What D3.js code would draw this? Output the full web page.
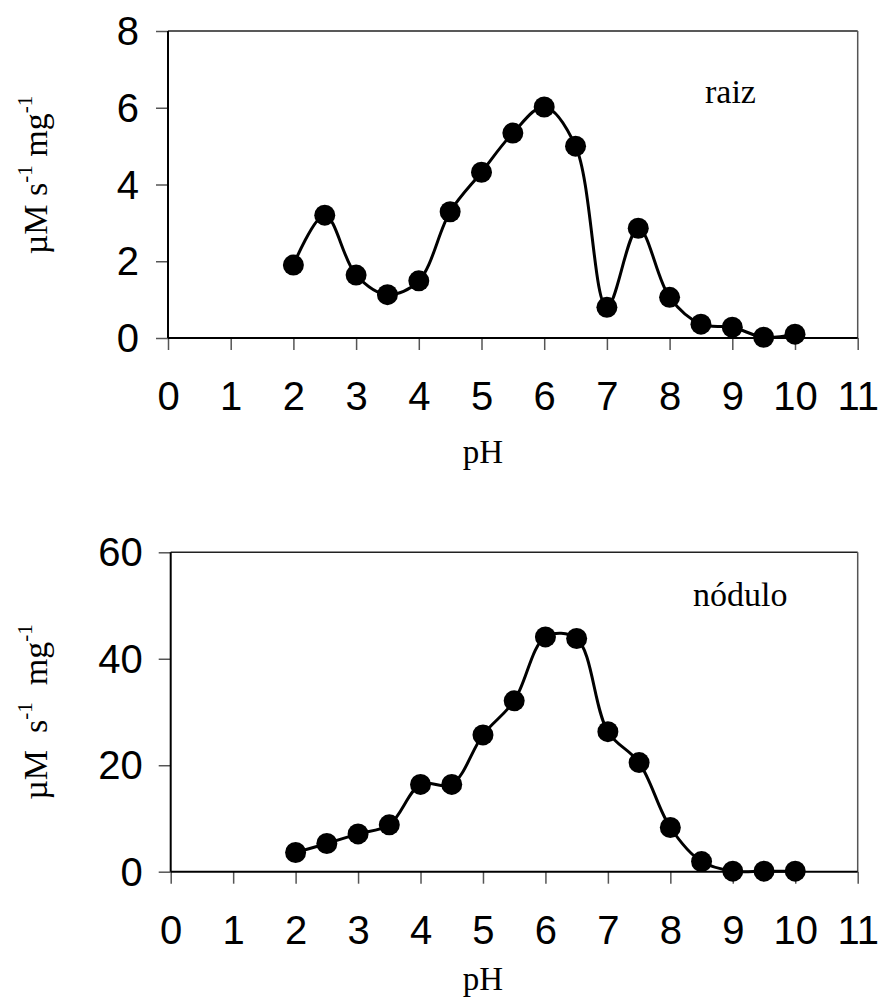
<!DOCTYPE html>
<html>
<head>
<meta charset="utf-8">
<script src="https://cdn.jsdelivr.net/npm/d3@7/dist/d3.min.js"></script>
<style>
    body { margin: 0; background: #fff; }
    .tick text { font-family: "Liberation Sans", Arial, sans-serif; fill: #000; }
    .tick line { stroke: #555; stroke-width: 1.5; }
    .serif { font-family: "Liberation Serif", "Times New Roman", serif; fill: #000; }
</style>
</head>
<body>
<div id="chart"></div>
<script>

// pH values (shared by both panels)
var phValues = [2, 2.5, 3, 3.5, 4, 4.5, 5, 5.5, 6, 6.5, 7, 7.5, 8, 8.5, 9, 9.5, 10];

// activity, raiz (root)
var raizValues = [1.9, 3.2, 1.64, 1.13, 1.49, 3.29, 4.32, 5.34, 6.02, 5.0, 0.8, 2.86, 1.06, 0.36, 0.28, 0.02, 0.1];

// activity, nodulo (nodule)
var noduloValues = [3.6, 5.3, 7.1, 8.8, 16.4, 16.4, 25.7, 32.1, 44.1, 43.8, 26.3, 20.5, 8.3, 1.9, 0.1, 0.1, 0.1];

var xTicks = [0, 1, 2, 3, 4, 5, 6, 7, 8, 9, 10, 11];
var raizYTicks = [0, 2, 4, 6, 8];
var noduloYTicks = [0, 20, 40, 60];


var svg = d3.select("#chart").append("svg")
    .attr("width", 880)
    .attr("height", 1001);


/*
 * drawPanel - one pH / activity plot
 */
function drawPanel(cfg) {
    var vis = {};

    vis.g = svg.append("g")
        .attr("transform", "translate(" + cfg.left + "," + cfg.top + ")");

    vis.width = cfg.width;
    vis.height = cfg.height;

    var data = phValues.map(function(d, i) {
        return { ph: d, value: cfg.values[i] };
    });

    // Scales and axes
    vis.x = d3.scaleLinear()
        .domain([0, 11])
        .range([0, vis.width]);

    vis.y = d3.scaleLinear()
        .domain([0, cfg.yMax])
        .range([vis.height, 0]);

    vis.xAxis = d3.axisBottom(vis.x)
        .tickValues(xTicks)
        .tickSize(12)
        .tickSizeOuter(0)
        .tickPadding(32);

    vis.yAxis = d3.axisLeft(vis.y)
        .tickValues(cfg.yTicks)
        .tickSize(12)
        .tickSizeOuter(0)
        .tickPadding(cfg.yPad);

    var xg = vis.g.append("g")
        .attr("transform", "translate(0," + vis.height + ")")
        .call(vis.xAxis);
    xg.select(".domain").remove();
    xg.selectAll(".tick text").style("font-size", "40px");

    var yg = vis.g.append("g")
        .call(vis.yAxis);
    yg.select(".domain").remove();
    yg.selectAll(".tick text")
        .style("font-size", "40px")
        .attr("dy", "0.34em");

    // frame: top + right thin, left + bottom axis lines
    vis.g.append("line")
        .attr("x1", 0).attr("x2", vis.width)
        .attr("y1", 0).attr("y2", 0)
        .attr("stroke", "#222").attr("stroke-width", 1.5);
    vis.g.append("line")
        .attr("x1", vis.width).attr("x2", vis.width)
        .attr("y1", 0).attr("y2", vis.height)
        .attr("stroke", "#555").attr("stroke-width", 1.5);
    vis.g.append("line")
        .attr("x1", 0).attr("x2", 0)
        .attr("y1", 0).attr("y2", vis.height)
        .attr("stroke", "#000").attr("stroke-width", 2);
    vis.g.append("line")
        .attr("x1", 0).attr("x2", vis.width)
        .attr("y1", vis.height).attr("y2", vis.height)
        .attr("stroke", "#000").attr("stroke-width", 2);

    // smoothed line
    vis.line = d3.line()
        .curve(d3.curveCatmullRom.alpha(0.5))
        .x(function(d) { return vis.x(d.ph); })
        .y(function(d) { return vis.y(d.value); });

    vis.g.append("path")
        .datum(data)
        .attr("d", vis.line)
        .attr("fill", "none")
        .attr("stroke", "#000")
        .attr("stroke-width", 3);

    vis.g.selectAll(".dot")
        .data(data)
        .enter().append("circle")
        .attr("class", "dot")
        .attr("cx", function(d) { return vis.x(d.ph); })
        .attr("cy", function(d) { return vis.y(d.value); })
        .attr("r", 10.5)
        .attr("fill", "#000");

    // panel label
    vis.g.append("text")
        .attr("class", "serif")
        .attr("x", cfg.labelX)
        .attr("y", cfg.labelY)
        .style("font-size", "34px")
        .text(cfg.label);

    // x title
    vis.g.append("text")
        .attr("class", "serif")
        .attr("x", 483 - cfg.left)
        .attr("y", vis.height + cfg.phDy)
        .attr("text-anchor", "middle")
        .style("font-size", "33px")
        .text("pH");

    // y title
    var yt = vis.g.append("text")
        .attr("class", "serif")
        .attr("transform", "translate(" + (47 - cfg.left) + "," + cfg.yTitleY + ") rotate(-90)")
        .attr("text-anchor", "middle")
        .style("font-size", "34px");
    yt.append("tspan").text("\u00b5M" + cfg.gap + "s");
    yt.append("tspan").attr("dy", -15).style("font-size", "21px").text("-1");
    yt.append("tspan").attr("dy", 15).text(cfg.gap + "mg");
    yt.append("tspan").attr("dy", -15).style("font-size", "21px").text("-1");

    return vis;
}


drawPanel({
    left: 168, top: 31, width: 689.7, height: 307,
    values: raizValues, yMax: 8, yTicks: raizYTicks, yPad: 17,
    label: "raiz", labelX: 705 - 168, labelY: 103 - 31,
    phDy: 125, yTitleY: 175 - 31, gap: "\u00a0"
});

drawPanel({
    left: 170.7, top: 552.3, width: 687, height: 319.4,
    values: noduloValues, yMax: 60, yTicks: noduloYTicks, yPad: 16,
    label: "n\u00f3dulo", labelX: 693 - 170.7, labelY: 606 - 552.3,
    phDy: 118, yTitleY: 712 - 552.3, gap: "\u00a0\u00a0"
});

</script>
</body>
</html>
